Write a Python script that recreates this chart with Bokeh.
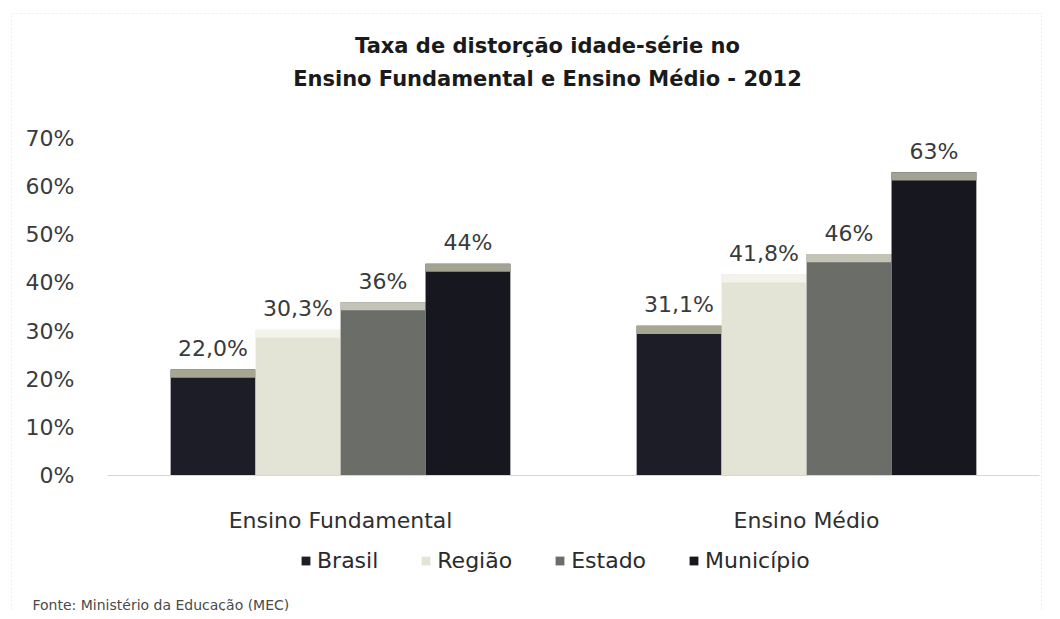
from bokeh.plotting import figure
from bokeh.models import (ColumnDataSource, Range1d, Label, Legend, LegendItem,
                          PrintfTickFormatter, FixedTicker, BoxAnnotation)
from bokeh.embed import file_html
from bokeh.resources import INLINE
from bokeh.core.properties import value

# ---------------- data ----------------
categories = ["Ensino Fundamental", "Ensino Médio"]
series = ["Brasil", "Região", "Estado", "Município"]
brasil = [22.0, 31.1]
regiao = [30.3, 41.8]
estado = [36.0, 46.0]
municipio = [44.0, 63.0]
brasil_labels = ["22,0%", "31,1%"]
regiao_labels = ["30,3%", "41,8%"]
estado_labels = ["36%", "46%"]
municipio_labels = ["44%", "63%"]
y_ticks = [0, 10, 20, 30, 40, 50, 60, 70]
title_lines = ["Taxa de distorção idade-série no",
               "Ensino Fundamental e Ensino Médio - 2012"]
source_note = "Fonte: Ministério da Educação (MEC)"

# ---------------- layout / styles ----------------
W, H = 1052, 611
FRAME_L, FRAME_R = 107, 1039          # pixel extent of the category area
AX_BOTTOM, AX_TOP = 475, 138          # pixel rows of 0% and 70%
Y_MAX = 70
FONT = "DejaVu Sans"
bar_colors = ["#1d1d27", "#e3e4d6", "#6b6d68", "#17171f"]
bevel_colors = ["#a6a692", "#f3f3ec", "#c3c4b6", "#a3a394"]
offsets = [-0.2735, -0.0912, 0.0912, 0.2735]
bar_w = 0.182
bevel = 1.7

n_cat = len(categories)
px_per_x = (FRAME_R - FRAME_L) / n_cat
px_per_y = (AX_BOTTOM - AX_TOP) / Y_MAX
x_range = Range1d(-FRAME_L / px_per_x, n_cat + (W - FRAME_R) / px_per_x)
y_range = Range1d(-(H - AX_BOTTOM) / px_per_y, AX_BOTTOM / px_per_y)


def px_to_x(px):
    return x_range.start + px / px_per_x


def py_to_y(py):
    return y_range.end - py / px_per_y


values = [brasil, regiao, estado, municipio]
labels = [brasil_labels, regiao_labels, estado_labels, municipio_labels]
centers = [i + 0.5 for i in range(n_cat)]

p = figure(x_range=x_range, y_range=y_range, width=W, height=H,
           output_backend="svg", toolbar_location=None,
           min_border_left=0, min_border_right=0, min_border_top=0,
           min_border_bottom=0)
p.background_fill_color = "#ffffff"
p.border_fill_color = "#ffffff"
p.outline_line_color = None
p.xgrid.grid_line_color = None
p.ygrid.grid_line_color = None

# chart-area border (light dotted frame of the original chart)
p.add_layout(BoxAnnotation(left=px_to_x(11), right=px_to_x(1041),
                           top=py_to_y(13), bottom=py_to_y(H + 20),
                           fill_alpha=0, line_color="#c4c4c4",
                           line_dash="2 2", line_width=1))

items = []
for i, name in enumerate(series):
    src = ColumnDataSource(dict(
        x=[c + offsets[i] for c in centers],
        val=values[i],
        bev=[v - bevel for v in values[i]],
        lab=labels[i],
    ))
    r = p.vbar(x="x", top="val", bottom=0, width=bar_w, source=src,
               fill_color=bar_colors[i], line_color=None)
    p.vbar(x="x", top="val", bottom="bev", width=bar_w, source=src,
           fill_color=bevel_colors[i], line_color=None)
    p.text(x="x", y="val", text="lab", source=src, text_align="center",
           text_baseline="alphabetic", y_offset=-21, text_font=value(FONT),
           text_font_size="22px", text_color="#3a3a3a")
    items.append(LegendItem(label=name, renderers=[r]))

# axes, placed inside the frame at the chart's origin
p.yaxis.fixed_location = 0
p.yaxis.bounds = (0, Y_MAX)
p.yaxis.ticker = FixedTicker(ticks=y_ticks)
p.yaxis.formatter = PrintfTickFormatter(format="%d%%")
p.yaxis.axis_line_color = None
p.yaxis.major_tick_line_color = None
p.yaxis.minor_tick_line_color = None
p.yaxis.major_label_standoff = 27
p.yaxis.major_label_text_font = FONT
p.yaxis.major_label_text_font_size = "22px"
p.yaxis.major_label_text_color = "#3b3b3b"

p.xaxis.fixed_location = 0
p.xaxis.bounds = (0, n_cat)
p.xaxis.ticker = FixedTicker(ticks=centers)
p.xaxis.major_label_overrides = {c: cat for c, cat in zip(centers, categories)}
p.xaxis.axis_line_color = "#d4d8de"
p.xaxis.major_tick_line_color = None
p.xaxis.minor_tick_line_color = None
p.xaxis.major_label_standoff = 26
p.xaxis.major_label_text_font = FONT
p.xaxis.major_label_text_font_size = "22px"
p.xaxis.major_label_text_color = "#2f2f2f"

# legend
legend = Legend(items=items, location=(300, 38), orientation="horizontal")
legend.background_fill_alpha = 0
legend.border_line_color = None
legend.padding = 0
legend.margin = 0
legend.spacing = 42
legend.label_standoff = 6
legend.glyph_width = 11
legend.glyph_height = 11
legend.label_text_font = FONT
legend.label_text_font_size = "22px"
legend.label_text_color = "#2a2a2a"
p.add_layout(legend)

# title (two lines)
for txt, yy in zip(title_lines, [H - 45, H - 78]):
    p.add_layout(Label(x=547, y=yy, x_units="screen", y_units="screen",
                       text=txt, text_align="center", text_baseline="alphabetic",
                       text_font=FONT, text_font_size="21px",
                       text_font_style="bold", text_color="#1a1a1a"))

# source note
p.add_layout(Label(x=32, y=H - 604, x_units="screen", y_units="screen",
                   text=source_note, text_align="left", text_baseline="middle",
                   text_font=FONT, text_font_size="14px", text_color="#4a4a4a"))

open("out.html", "w").write(file_html(p, INLINE))
